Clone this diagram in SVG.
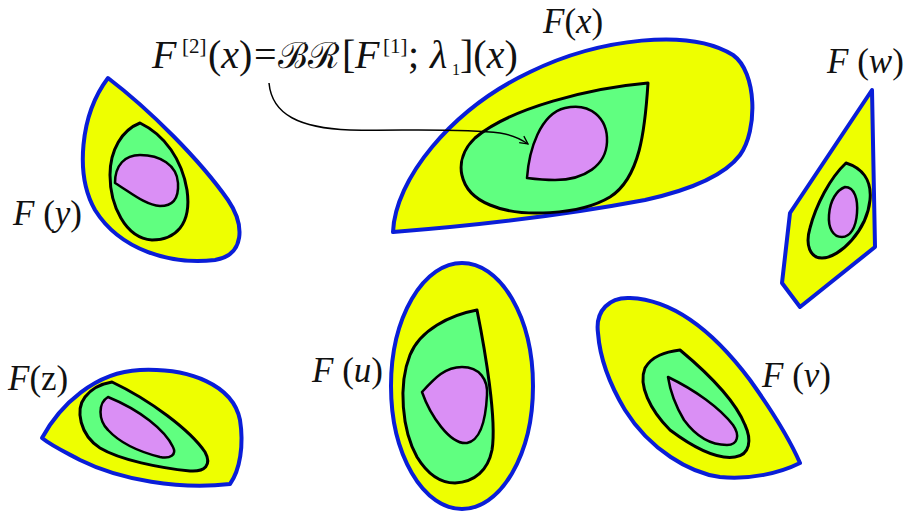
<svg xmlns="http://www.w3.org/2000/svg" width="904" height="512" viewBox="0 0 904 512">
<defs>
<marker id="arr" viewBox="0 0 10 10" refX="9" refY="5" markerWidth="10" markerHeight="10" markerUnits="userSpaceOnUse" orient="auto">
<path d="M1,1 L9,5 L1,9" fill="none" stroke="#000" stroke-width="1.3"/>
</marker>
<style>
.out{fill:#EEFF00;stroke:#0A1ED8;stroke-width:4;stroke-linejoin:round}
.mid{fill:#60FF80;stroke:#000;stroke-width:3;stroke-linejoin:round}
.inn{fill:#DA8FF5;stroke:#000;stroke-width:2.5;stroke-linejoin:round}
.t{font-family:"Liberation Serif","Times New Roman",serif;fill:#111}
.i{font-style:italic}
.lbl{font-size:35px}
.f{font-size:40px}
.sup{font-size:21px}
.sub{font-size:16px}
.scr{font-family:"DejaVu Serif","Liberation Serif",serif;font-size:36px}
.conn{fill:none;stroke:#000;stroke-width:1.5}
</style>
</defs>
<rect width="904" height="512" fill="#fff"/>

<g id="formula">
<text class="t f" y="68"><tspan x="152" class="i">F</tspan><tspan x="182" y="53" class="sup">[2]</tspan><tspan x="208" y="68">(</tspan><tspan class="i">x</tspan><tspan>)</tspan><tspan x="254">=</tspan><tspan x="278" class="scr">ℬℛ</tspan><tspan x="342">[</tspan><tspan x="355" class="i">F</tspan><tspan x="383" y="53" class="sup">[1]</tspan><tspan x="408" y="68">;</tspan><tspan x="430" class="i">λ</tspan><tspan x="452" y="75" class="sub">1</tspan><tspan x="460" y="68">](</tspan><tspan class="i">x</tspan><tspan>)</tspan></text>
</g>

<g id="node-x">
<path class="out" d="M393,232 C395,180 450,110 530,72 C600,38 690,28 733,55 C757,72 758,130 740,155 C725,175 690,190 645,200 C560,216 470,226 393,232 Z"/>
<path class="mid" d="M648,83 C590,88 510,108 475,138 C452,160 458,192 490,205 C520,218 580,215 610,197 C640,178 645,130 648,83 Z"/>
<path class="inn" d="M527,178 C529,150 540,114 565,108 C590,102 608,118 607,142 C606,165 585,180 555,180 C545,180 535,179 527,178 Z"/>
<text class="t lbl" x="543" y="33"><tspan class="i">F</tspan>(<tspan class="i">x</tspan>)</text>
</g>

<g id="node-y">
<path class="out" d="M108,78 C150,110 200,160 228,200 C245,225 245,255 215,260 C170,265 120,250 95,210 C75,175 80,115 108,78 Z"/>
<path class="mid" d="M140,123 C165,135 182,160 187,190 C192,225 175,240 152,240 C125,238 110,205 110,175 C110,150 122,130 140,123 Z"/>
<path class="inn" d="M115,183 C115,165 125,155 140,155 C160,155 177,165 178,183 C179,200 172,206 160,206 C145,205 130,192 115,183 Z"/>
<text class="t lbl" x="13" y="225"><tspan class="i">F</tspan> (<tspan class="i">y</tspan>)</text>
</g>

<g id="node-w">
<path class="out" d="M872,90 L875,247 L800,307 L782,283 L790,213 Z"/>
<path class="mid" d="M846,163 C862,168 872,180 870,200 C867,230 840,258 822,258 C810,258 805,245 810,228 C816,205 830,178 846,163 Z"/>
<path class="inn" d="M845,187 C855,187 858,200 857,213 C856,228 850,237 842,237 C833,237 828,228 829,215 C830,200 837,190 845,187 Z"/>
<text class="t lbl" x="827" y="73"><tspan class="i">F</tspan> (<tspan class="i">w</tspan>)</text>
</g>

<g id="node-z">
<path class="out" d="M42,438 C60,405 95,372 140,370 C190,368 233,385 240,420 C244,445 240,470 230,484 C180,490 120,480 80,460 C65,452 52,446 42,438 Z"/>
<path class="mid" d="M112,382 C150,400 190,430 205,452 C212,465 205,472 190,471 C160,468 120,460 100,448 C80,435 75,410 85,397 C92,388 100,384 112,382 Z"/>
<path class="inn" d="M108,397 C140,410 165,430 173,447 C177,455 170,459 160,457 C140,452 120,443 108,430 C98,420 98,403 108,397 Z"/>
<text class="t lbl" x="8" y="390"><tspan class="i">F</tspan>(z)</text>
</g>

<g id="node-u">
<ellipse class="out" cx="462" cy="386" rx="71" ry="123"/>
<path class="mid" d="M477,310 C450,315 420,330 410,355 C398,385 402,430 417,457 C428,475 440,483 455,483 C475,482 488,470 492,450 C497,420 485,350 477,310 Z"/>
<path class="inn" d="M422,392 C435,378 445,367 462,367 C480,367 488,380 487,395 C486,415 482,440 467,443 C450,445 430,415 422,392 Z"/>
<text class="t lbl" x="312" y="382"><tspan class="i">F</tspan> (<tspan class="i">u</tspan>)</text>
</g>

<g id="node-v">
<path class="out" d="M598,333 C595,310 610,297 630,298 C680,300 720,340 750,380 C775,415 790,440 800,463 C780,473 750,480 720,477 C690,473 650,450 625,410 C610,385 600,360 598,333 Z"/>
<path class="mid" d="M680,350 C710,375 735,400 745,425 C752,440 750,455 735,457 C715,460 690,445 670,430 C650,410 638,385 645,368 C652,356 665,352 680,350 Z"/>
<path class="inn" d="M668,377 C695,390 720,408 733,425 C740,435 738,445 727,445 C710,445 695,435 684,420 C675,405 670,390 668,377 Z"/>
<text class="t lbl" x="762" y="387"><tspan class="i">F</tspan> (<tspan class="i">v</tspan>)</text>
</g>

<g id="connectors">
<path class="conn" d="M269,83 C272,115 300,128 350,130 C400,131 460,128 500,133 C513,135 521,139 528,144" marker-end="url(#arr)"/>
</g>
</svg>
